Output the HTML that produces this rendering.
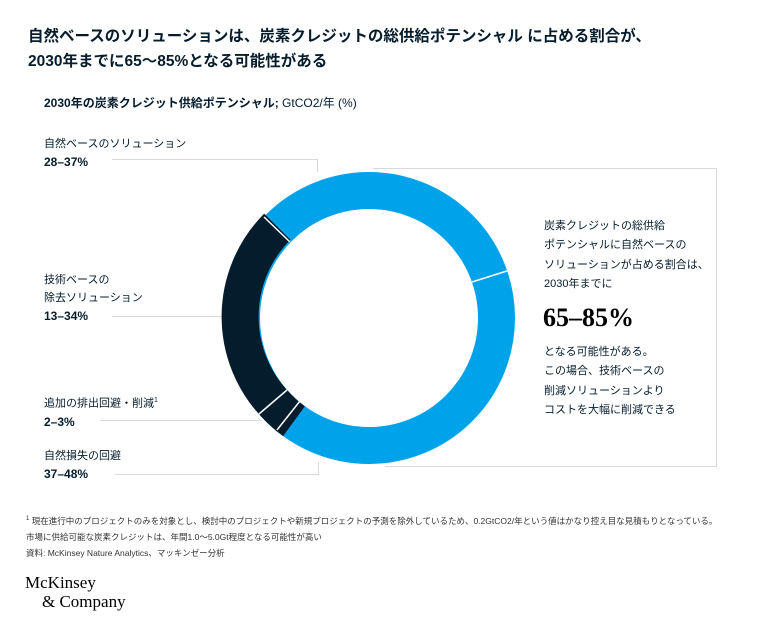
<!DOCTYPE html>
<html><head><meta charset="utf-8"><style>
body{margin:0;background:#fff;}
.p{position:relative;width:770px;height:634px;overflow:hidden;font-family:"Liberation Sans","Noto Sans CJK JP",sans-serif;color:#051c2c;}
.t{position:absolute;white-space:nowrap;}
.t b.v{font-size:12px;}
</style></head><body><div class="p">
<div class="t" style="left:28px;top:24px;font-size:15.5px;font-weight:bold;line-height:25px;">自然ベースのソリューションは、炭素クレジットの総供給ポテンシャル に占める割合が、<br>2030年までに65～85%となる可能性がある</div>
<div class="t" style="left:44px;top:94px;font-size:12px;"><b>2030年の炭素クレジット供給ポテンシャル;</b> GtCO2/年 (%)</div>

<div class="t" style="left:44px;top:135px;font-size:11px;line-height:18px;">自然ベースのソリューション<br><b class="v">28–37%</b></div>
<div class="t" style="left:44px;top:271px;font-size:11px;line-height:18px;">技術ベースの<br>除去ソリューション<br><b class="v">13–34%</b></div>
<div class="t" style="left:44px;top:392px;font-size:11px;line-height:18px;">追加の排出回避・削減<sup style="font-size:7px">1</sup><br><b class="v">2–3%</b></div>
<div class="t" style="left:44px;top:447px;font-size:11px;line-height:18px;">自然損失の回避<br><b class="v">37–48%</b></div>

<svg class="t" style="left:0;top:0" width="770" height="634">
<g fill="none" stroke="#d9d9d9" stroke-width="1">
<path d="M112 159.5H317.5V172"/>
<path d="M112 316.5H223"/>
<path d="M100 420.5H262"/>
<path d="M115 474.5H318.5V462"/>
<path d="M373 168.5H716.5V466.5H385"/>
</g>
<g fill="none" stroke-width="37">
<circle cx="369" cy="318" r="127.5" stroke="#00a3ea"/>
<path d="M281.6 410.8 A127.5 127.5 0 0 1 277.3 226.7" stroke="#051c2c"/>
<path d="M294 421.2 A127.5 127.5 0 0 1 272.8 401.7" stroke="#051c2c"/>
</g>
<g stroke="#fff" stroke-width="1.5">
<line x1="264" y1="217" x2="290" y2="242"/>
<line x1="472" y1="282" x2="510" y2="270"/>
<line x1="259" y1="414" x2="287" y2="390"/>
<line x1="277" y1="430" x2="300" y2="401"/>
</g>
</svg>

<div class="t" style="left:544px;top:217px;font-size:11px;line-height:19.3px;">炭素クレジットの総供給<br>ポテンシャルに自然ベースの<br>ソリューションが占める割合は、<br>2030年までに</div>
<div class="t" style="left:543px;top:303px;font-size:26px;font-weight:bold;font-family:'Liberation Serif',serif;color:#000;">65–85%</div>
<div class="t" style="left:544px;top:343px;font-size:11px;line-height:19.3px;">となる可能性がある。<br>この場合、技術ベースの<br>削減ソリューションより<br>コストを大幅に削減できる</div>

<div class="t" style="left:26px;top:511px;font-size:8.5px;line-height:16px;color:#333;"><sup style="font-size:6px">1</sup> 現在進行中のプロジェクトのみを対象とし、検討中のプロジェクトや新規プロジェクトの予測を除外しているため、0.2GtCO2/年という値はかなり控え目な見積もりとなっている。<br>市場に供給可能な炭素クレジットは、年間1.0～5.0Gt程度となる可能性が高い<br>資料: McKinsey Nature Analytics、マッキンゼー分析</div>
<div class="t" style="left:25px;top:573px;font-family:'Liberation Serif',serif;font-size:17px;line-height:19px;color:#000;">McKinsey<br><span style="padding-left:17px">&amp; Company</span></div>
</div></body></html>
